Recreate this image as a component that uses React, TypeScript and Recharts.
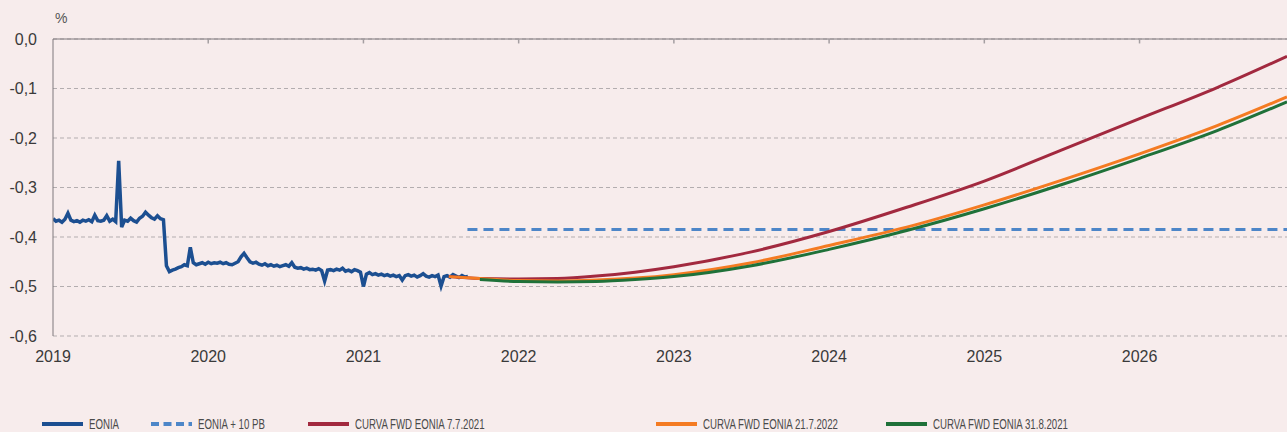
import React from 'react';
import { LineChart, Line, XAxis, YAxis, CartesianGrid, ReferenceLine } from 'recharts';

// EONIA, weekly readings from 2019 onward (%)
const eoniaStart = 2019;
const eoniaValues = [
  -0.363, -0.368, -0.366, -0.37, -0.364, -0.352, -0.366, -0.369, -0.367, -0.37,
  -0.366, -0.368, -0.365, -0.369, -0.356, -0.367, -0.368, -0.366, -0.357, -0.368,
  -0.364, -0.369, -0.246, -0.38, -0.366, -0.368, -0.362, -0.367, -0.37, -0.362,
  -0.358, -0.35, -0.356, -0.361, -0.364, -0.357, -0.363, -0.365, -0.458, -0.47,
  -0.467, -0.465, -0.462, -0.46, -0.456, -0.458, -0.421, -0.452, -0.456, -0.454,
  -0.452, -0.455, -0.451, -0.454, -0.452, -0.453, -0.451, -0.454, -0.452, -0.455,
  -0.456, -0.453, -0.45, -0.44, -0.433, -0.442, -0.45, -0.453, -0.451, -0.455,
  -0.457, -0.454, -0.458, -0.456, -0.459, -0.457, -0.46, -0.458, -0.456, -0.459,
  -0.452, -0.461, -0.463, -0.462, -0.465, -0.463, -0.466, -0.465, -0.467, -0.464,
  -0.468, -0.489, -0.467, -0.466, -0.468, -0.465, -0.467, -0.463, -0.469, -0.467,
  -0.47, -0.466, -0.468, -0.471, -0.5, -0.475, -0.472, -0.476, -0.474, -0.477,
  -0.475, -0.478, -0.476, -0.479, -0.477, -0.48, -0.478, -0.487, -0.478, -0.476,
  -0.479, -0.477, -0.481, -0.478, -0.474, -0.479, -0.481, -0.478, -0.48, -0.477,
  -0.499, -0.48, -0.478, -0.481, -0.476, -0.479, -0.482, -0.478, -0.481, -0.48,
];

// EONIA + 10 pb
const spreadDates = [2021.67, 2026.95];
const spreadValues = [-0.385, -0.385];

// forward curves
const fwdDates = [2021.55, 2021.75, 2022, 2022.25, 2022.5, 2022.75, 2023, 2023.5, 2024, 2024.5, 2025, 2025.5, 2026, 2026.5, 2026.95];
const fwdJul7 = [-0.48, -0.484, -0.485, -0.484, -0.479, -0.471, -0.46, -0.43, -0.389, -0.34, -0.287, -0.224, -0.161, -0.098, -0.035];
const fwdJul21 = [-0.48, -0.484, -0.488, -0.489, -0.487, -0.483, -0.476, -0.452, -0.417, -0.38, -0.335, -0.285, -0.232, -0.175, -0.117];
const fwdAug31Dates = fwdDates.slice(1);
const fwdAug31 = [-0.486, -0.49, -0.491, -0.49, -0.486, -0.48, -0.458, -0.425, -0.387, -0.343, -0.294, -0.241, -0.185, -0.127];

const yearTicks = [2019, 2020, 2021, 2022, 2023, 2024, 2025, 2026];
const yTicks = [0, -0.1, -0.2, -0.3, -0.4, -0.5, -0.6];

const eoniaData = eoniaValues.map((v, i) => ({ t: eoniaStart + i / 52, v }));
const pairs = (ts: number[], vs: number[]) => ts.map((t, i) => ({ t, v: vs[i] }));

const legendItems = [
  { label: 'EONIA', color: '#1c4f91', dashed: false, left: 42 },
  { label: 'EONIA + 10 PB', color: '#4d86c8', dashed: true, left: 151 },
  { label: 'CURVA FWD EONIA 7.7.2021', color: '#a2293f', dashed: false, left: 308 },
  { label: 'CURVA FWD EONIA 21.7.2022', color: '#f47b22', dashed: false, left: 656 },
  { label: 'CURVA FWD EONIA 31.8.2021', color: '#1f7139', dashed: false, left: 886 },
];

const tickFont = { fontFamily: 'Liberation Sans, Arial, sans-serif', fontSize: 16, fill: '#3a3a3a' };
const fmt = (v: number) => v.toFixed(1).replace('.', ',');
const domainX: [number, number] = [2019, 2026.95];
const axisGrey = '#7f797c';

export default function App() {
  return (
    <div style={{ position: 'relative', width: 1287, height: 432, background: '#f7ecec' }}>
      <style>{'body{margin:0}'}</style>
      <div style={{ position: 'absolute', left: 55, top: 10, fontFamily: 'Liberation Sans, Arial, sans-serif', fontSize: 14, color: '#555' }}>
        %
      </div>
      <LineChart width={1287} height={432} margin={{ top: 39, right: 0, left: 0, bottom: 0 }}>
        <CartesianGrid horizontal vertical={false} stroke="#b3adaf" strokeDasharray="4 3" />
        <XAxis
          type="number"
          dataKey="t"
          domain={domainX}
          allowDataOverflow
          ticks={yearTicks}
          height={96}
          axisLine={false}
          tickLine={false}
          tickSize={0}
          tickMargin={15}
          tick={tickFont}
        />
        <YAxis
          type="number"
          domain={[-0.6, 0]}
          ticks={yTicks}
          width={53}
          axisLine={{ stroke: axisGrey }}
          tickLine={false}
          tickSize={0}
          tickMargin={16}
          tick={tickFont}
          tickFormatter={fmt}
        />
        {/* solid top border with small downward year ticks */}
        <ReferenceLine y={0} stroke={axisGrey} strokeWidth={1} />
        {yearTicks.slice(1).map((yr) => (
          <ReferenceLine
            key={yr}
            segment={[{ x: yr, y: 0 }, { x: yr, y: -0.009 }]}
            stroke="#a49ea1"
            strokeWidth={1.5}
          />
        ))}
        <Line data={eoniaData} dataKey="v" type="linear" stroke="#1c4f91" strokeWidth={3.5} dot={false} isAnimationActive={false} />
        <Line data={pairs(spreadDates, spreadValues)} dataKey="v" type="linear" stroke="#4d86c8" strokeWidth={3} strokeDasharray="10 6" dot={false} isAnimationActive={false} />
        <Line data={pairs(fwdDates, fwdJul7)} dataKey="v" type="monotone" stroke="#a2293f" strokeWidth={3} dot={false} isAnimationActive={false} />
        <Line data={pairs(fwdDates, fwdJul21)} dataKey="v" type="monotone" stroke="#f47b22" strokeWidth={3} dot={false} isAnimationActive={false} />
        <Line data={pairs(fwdAug31Dates, fwdAug31)} dataKey="v" type="monotone" stroke="#1f7139" strokeWidth={3} dot={false} isAnimationActive={false} />
      </LineChart>
      {legendItems.map((it) => (
        <div key={it.label} style={{ position: 'absolute', left: it.left, top: 416, height: 16, display: 'flex', alignItems: 'center' }}>
          <svg width={41} height={6} style={{ marginRight: 6 }}>
            <line x1={0} y1={3} x2={41} y2={3} stroke={it.color} strokeWidth={4} strokeDasharray={it.dashed ? '8 4.5' : undefined} />
          </svg>
          <span style={{ display: 'inline-block', transform: 'scaleX(0.69)', transformOrigin: 'left center', fontFamily: '"Liberation Sans", Arial, sans-serif', fontSize: 14, color: '#4a4a4a', whiteSpace: 'nowrap' }}>
            {it.label}
          </span>
        </div>
      ))}
    </div>
  );
}
